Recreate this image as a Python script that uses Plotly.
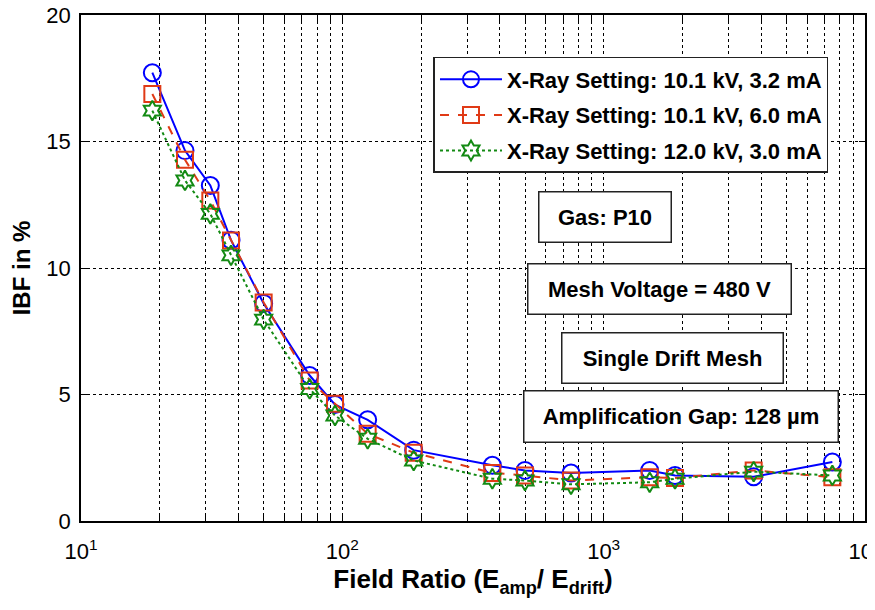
import plotly.graph_objects as go

field_ratio = [18.75, 25, 31.25, 37.5, 50, 75, 93.75, 125, 187.5, 375, 500, 750, 1500, 1875, 3750, 7500]
ibf_10kV_3p2mA = [17.72, 14.64, 13.26, 11.1, 8.6, 5.75, 4.6, 4.0, 2.8, 2.2, 2.0, 1.9, 2.0, 1.8, 1.75, 2.33]
ibf_10kV_6p0mA = [16.88, 14.28, 12.67, 11.09, 8.64, 5.55, 4.63, 3.45, 2.7, 1.9, 1.8, 1.6, 1.73, 1.7, 2.0, 1.73]
ibf_12kV_3p0mA = [16.22, 13.46, 12.14, 10.5, 7.96, 5.22, 4.17, 3.25, 2.39, 1.67, 1.6, 1.45, 1.53, 1.67, 1.95, 1.8]

series_names = ["X-Ray Setting: 10.1 kV, 3.2 mA",
                "X-Ray Setting: 10.1 kV, 6.0 mA",
                "X-Ray Setting: 12.0 kV, 3.0 mA"]

x_tickvals = [m * 10 ** e for e in range(1, 4) for m in range(1, 10)] + [10000]
x_ticktext = [("10<sup>%d</sup>" % e if m == 1 else "") for e in range(1, 4) for m in range(1, 10)] + ["10<sup>4</sup>"]
y_tickvals = [0, 5, 10, 15, 20]

info_boxes = [("Gas: P10", 0.669, 0.601, 131, 49),
              ("Mesh Voltage = 480 V", 0.738, 0.458, 262, 49),
              ("Single Drift Mesh", 0.754, 0.322, 220, 49),
              ("Amplification Gap: 128 µm", 0.765, 0.206, 313, 50)]

FONT = "Liberation Sans, Arial, sans-serif"

fig = go.Figure()
styles = [
    dict(color="#0000ff", dash="solid", symbol="circle-open", size=17),
    dict(color="#e03a16", dash="dash", symbol="square-open", size=16),
    dict(color="#138a13", dash="dot", symbol="hexagram-open", size=15),
]
for name, ys, st, g in zip(series_names, [ibf_10kV_3p2mA, ibf_10kV_6p0mA, ibf_12kV_3p0mA], styles, ["a", "b", "c"]):
    fig.add_trace(go.Scatter(
        x=field_ratio, y=ys, name=name, mode="lines+markers", legendgroup=g,
        line=dict(color=st["color"], width=2, dash=st["dash"]),
        marker=dict(symbol=st["symbol"], size=st["size"], color=st["color"],
                    line=dict(color=st["color"], width=2)),
    ))

for text, x, y, w, h in info_boxes:
    fig.add_annotation(text=text, x=x, y=y, xref="paper", yref="paper",
                       showarrow=False, xanchor="center", yanchor="middle",
                       width=w, height=h, borderpad=0,
                       bordercolor="#222222", borderwidth=1.5, bgcolor="white",
                       font=dict(family=FONT, size=22, color="black", weight="bold"))

# page body has an 8px margin: size the figure so the plot area lands where the reference has it
fig.update_layout(
    width=867, height=602,
    margin=dict(l=73, r=10, t=7, b=89),
    paper_bgcolor="white", plot_bgcolor="white",
    font=dict(family=FONT, color="black"),
    showlegend=True,
    legend=dict(x=0.4496, y=0.917, xanchor="left", yanchor="top",
                bgcolor="white", bordercolor="#222222", borderwidth=1.5,
                font=dict(family=FONT, size=22, color="black", weight="bold"),
                tracegroupgap=4, itemwidth=62),
    xaxis=dict(type="log", range=[1, 4], tickvals=x_tickvals, ticktext=x_ticktext,
               ticks="inside", ticklen=6, tickcolor="black", automargin=False,
               ticklabeloverflow="allow",
               showline=True, linecolor="black", linewidth=1.5, mirror="ticks",
               showgrid=True, gridcolor="black", griddash="dot", gridwidth=1,
               tickfont=dict(family=FONT, size=22, color="black"),
               ticklabelstandoff=10,
               title=dict(text="<b>Field Ratio (E<sub>amp</sub>/ E<sub>drift</sub>)</b>",
                          font=dict(family=FONT, size=26, color="black"), standoff=4),
               zeroline=False),
    yaxis=dict(range=[0, 20], tickvals=y_tickvals,
               ticks="inside", ticklen=6, tickcolor="black", automargin=False,
               ticklabeloverflow="allow",
               showline=True, linecolor="black", linewidth=1.5, mirror="ticks",
               showgrid=True, gridcolor="black", griddash="dot", gridwidth=1,
               tickfont=dict(family=FONT, size=22, color="black"),
               ticklabelstandoff=4,
               title=dict(text="<b>IBF in %</b>", font=dict(family=FONT, size=24, color="black"), standoff=10),
               zeroline=False),
)

fig.write_html("out.html")
